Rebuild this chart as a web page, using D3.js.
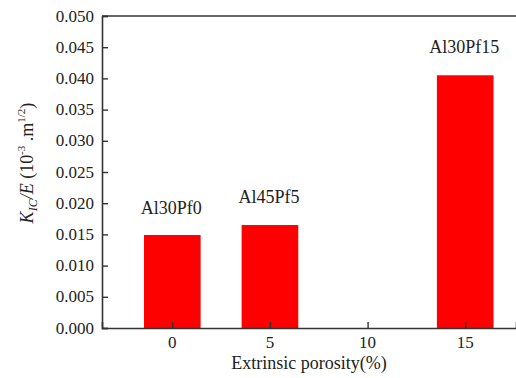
<!DOCTYPE html>
<meta charset="utf-8" />
<script src="https://d3js.org/d3.v7.min.js"></script>
<style>
  body { margin: 0; background: #fff; }
</style>
<div id="chart"></div>
<script>
  // data
  const porosity = [0, 5, 15];
  const kicE = [0.0149, 0.0165, 0.0405];
  const sampleNames = ["Al30Pf0", "Al45Pf5", "Al30Pf15"];
  const xTicks = [0, 5, 10, 15];
  const yTicks = [0, 0.005, 0.01, 0.015, 0.02, 0.025, 0.03, 0.035, 0.04, 0.045, 0.05];

  const W = 516, H = 378;
  const margin = { top: 16, right: 0, bottom: 50, left: 102 };
  const serif = "Liberation Serif";

  const svg = d3.select("#chart").append("svg")
    .attr("width", W).attr("height", H)
    .attr("font-family", serif);

  const x = d3.scaleLinear().domain([-3.6, 17.6])
    .range([margin.left, W - margin.right]);
  const y = d3.scaleLinear().domain([0, 0.05])
    .range([H - margin.bottom, margin.top]);

  const barW = 2.9; // in porosity units

  // bars
  svg.append("g").selectAll("rect")
    .data(porosity)
    .join("rect")
    .attr("x", (d) => x(d - barW / 2))
    .attr("width", (d) => x(d + barW / 2) - x(d - barW / 2))
    .attr("y", (d, i) => y(kicE[i]))
    .attr("height", (d, i) => y(0) - y(kicE[i]))
    .attr("fill", "#ff0000");

  // labels over bars
  const labelGap = [21, 22, 22];
  svg.append("g").selectAll("text")
    .data(porosity)
    .join("text")
    .attr("x", (d) => x(d) - 1)
    .attr("y", (d, i) => y(kicE[i]) - labelGap[i])
    .attr("text-anchor", "middle")
    .attr("fill", "#222")
    .attr("font-family", serif)
    .attr("font-size", 18)
    .text((d, i) => sampleNames[i]);

  // frame top
  svg.append("line")
    .attr("x1", margin.left).attr("x2", W)
    .attr("y1", y(0.05)).attr("y2", y(0.05))
    .attr("stroke", "#333").attr("stroke-width", 1.6);

  // y axis, ticks inside
  const yAxis = svg.append("g").attr("transform", `translate(${margin.left},0)`);
  yAxis.call(
    d3.axisRight(y).tickValues(d3.range(0, 0.0501, 0.0025)).tickSize(4).tickFormat("")
  );
  yAxis.call(
    d3.axisRight(y).tickValues(yTicks).tickSize(6).tickFormat("")
  );
  yAxis.attr("font-family", serif);
  yAxis.selectAll("path").attr("stroke", "#333").attr("stroke-width", 1.6);
  yAxis.selectAll("line").attr("stroke", "#333").attr("stroke-width", 1.4);
  yAxis.selectAll(".ylab")
    .data(yTicks)
    .join("text")
    .attr("class", "ylab")
    .attr("x", -8)
    .attr("y", (d) => y(d) + 5.5)
    .attr("text-anchor", "end")
    .attr("fill", "#222")
    .attr("font-family", serif)
    .attr("font-size", 17)
    .text((d) => d3.format(".3f")(d));

  // x axis, ticks inside
  const xAxis = svg.append("g").attr("transform", `translate(0,${y(0)})`);
  xAxis.call(
    d3.axisTop(x).tickValues([-2.5, 2.5, 7.5, 12.5, 17.5]).tickSize(4).tickFormat("")
  );
  xAxis.call(
    d3.axisTop(x).tickValues(xTicks).tickSize(6).tickFormat("")
  );
  xAxis.attr("font-family", serif);
  xAxis.selectAll("path").attr("stroke", "#333").attr("stroke-width", 1.6);
  xAxis.selectAll("line").attr("stroke", "#333").attr("stroke-width", 1.4);
  xAxis.selectAll(".xlab")
    .data(xTicks)
    .join("text")
    .attr("class", "xlab")
    .attr("x", (d) => x(d))
    .attr("y", 20)
    .attr("text-anchor", "middle")
    .attr("fill", "#222")
    .attr("font-family", serif)
    .attr("font-size", 17)
    .text((d) => d);

  svg.append("text")
    .attr("x", (margin.left + W) / 2)
    .attr("y", H - 9)
    .attr("text-anchor", "middle")
    .attr("fill", "#222")
    .attr("font-family", serif)
    .attr("font-size", 18)
    .text("Extrinsic porosity(%)");

  // y title
  const yt = svg.append("text")
    .attr("transform", "translate(33,163) rotate(-90)")
    .attr("text-anchor", "middle")
    .attr("fill", "#222")
    .attr("font-family", serif)
    .attr("font-size", 18);
  yt.append("tspan").attr("font-style", "italic").text("K");
  yt.append("tspan").attr("font-style", "italic").attr("font-size", 12).attr("dy", 4).text("IC");
  yt.append("tspan").attr("font-style", "italic").attr("dy", -4).text("/E");
  yt.append("tspan").text(" (10");
  yt.append("tspan").attr("font-size", 11).attr("dy", -8).text("-3");
  yt.append("tspan").attr("dy", 8).text(" .m");
  yt.append("tspan").attr("font-size", 11).attr("dy", -8).text("1/2");
  yt.append("tspan").attr("dy", 8).text(")");
</script>
